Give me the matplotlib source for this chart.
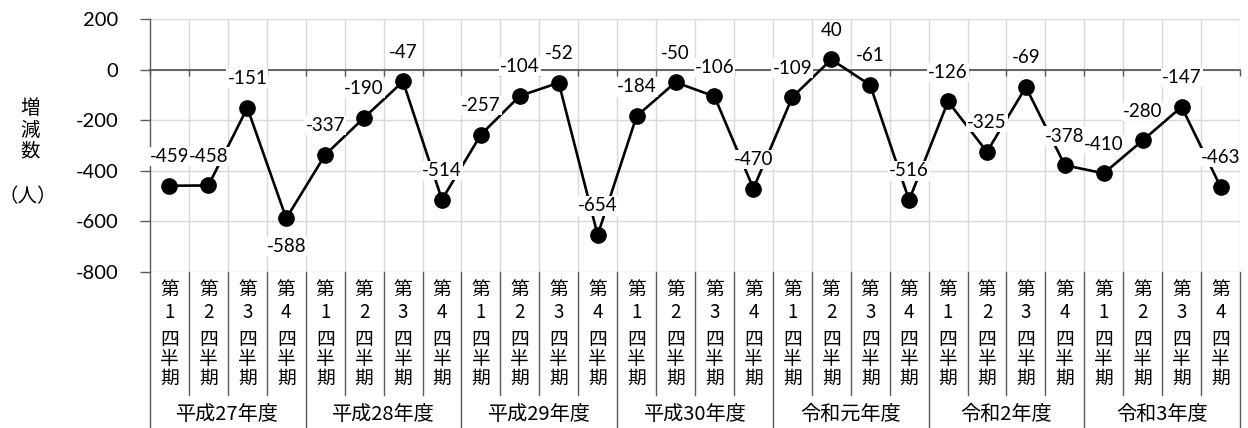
import matplotlib
matplotlib.use("Agg")
import matplotlib.pyplot as plt
from matplotlib.lines import Line2D
import matplotlib.transforms as mtransforms

plt.rcParams['font.family'] = ['Lato', 'Noto Sans CJK JP', 'DejaVu Sans']

# Quarterly net change (persons)
years = ["平成27年度", "平成28年度", "平成29年度", "平成30年度", "令和元年度", "令和2年度", "令和3年度"]
quarters = ["1", "2", "3", "4"]
values = [
    -459, -458, -151, -588,
    -337, -190, -47, -514,
    -257, -104, -52, -654,
    -184, -50, -106, -470,
    -109, 40, -61, -516,
    -126, -325, -69, -378,
    -410, -280, -147, -463,
]
below_labels = [3]  # index of the point whose label sits under the marker
y_ticks = [200, 0, -200, -400, -600, -800]

W, H = 1248, 428
fig = plt.figure(figsize=(W / 100, H / 100), dpi=100)
left, right, top, bottom = 150, 1240, 19, 272
ax = fig.add_axes([left / W, 1 - bottom / H, (right - left) / W, (bottom - top) / H])

n = len(values)
xs = list(range(n))
ax.set_xlim(-0.5, n - 0.5)
ax.set_ylim(-800, 200)

grid_c = "#d9d9d9"
dark_c = "#595959"

# grid
for y in y_ticks:
    ax.axhline(y, color=grid_c, lw=1.0, zorder=0)
for k in range(1, n + 1):
    ax.axvline(k - 0.5, color=grid_c, lw=1.0, zorder=0)

# axes styling
for s in ["top", "right"]:
    ax.spines[s].set_visible(False)
ax.spines["left"].set_color(dark_c)
ax.spines["left"].set_linewidth(1.0)
ax.spines["bottom"].set_position(("data", 0))
ax.spines["bottom"].set_color(dark_c)
ax.spines["bottom"].set_linewidth(1.3)
ax.set_xticks([k - 0.5 for k in range(n + 1)])
ax.set_xticklabels([])
ax.tick_params(axis="x", direction="out", length=4, color=dark_c, width=1.0)
ax.set_yticks(y_ticks)
ax.set_yticklabels([str(v) for v in y_ticks], fontsize=14.5)
ax.tick_params(axis="y", direction="out", length=7, color=dark_c, width=1.0, pad=16)

# series
ax.plot(xs, values, color="black", lw=1.9, marker="o", markersize=11,
        markerfacecolor="black", markeredgecolor="black", zorder=3)

for i, v in enumerate(values):
    dy = -20 if i in below_labels else 21
    ax.annotate(str(v), (i, v), xytext=(0, dy), textcoords="offset points",
                ha="center", va="center", fontsize=13.5, zorder=5,
                bbox=dict(boxstyle="square,pad=0.06", fc="white", ec="none"))

# category axis area
tr = mtransforms.blended_transform_factory(ax.transData, fig.transFigure)

def fy(px):
    return 1 - px / H

for k in range(n + 1):
    y_end = 428 if k % 4 == 0 else 395
    fig.add_artist(Line2D([k - 0.5, k - 0.5], [fy(272), fy(y_end)], transform=tr,
                          color=dark_c, lw=1.0, clip_on=False))

cjk = ["Noto Sans CJK JP"]
for i in range(n):
    q = quarters[i % 4]
    ax.text(i, fy(289), "第", transform=tr, ha="center", va="center",
            fontsize=13.5, family=cjk, clip_on=False)
    ax.text(i, fy(312), q, transform=tr, ha="center", va="center",
            fontsize=13.5, family=cjk, clip_on=False)
    ax.text(i, fy(359), "四\n半\n期", transform=tr, ha="center", va="center",
            fontsize=13.5, family=cjk, linespacing=0.88, clip_on=False)

for j, yr in enumerate(years):
    ax.text(4 * j + 1.5, fy(414), yr, transform=tr, ha="center", va="center",
            fontsize=14.5, family=cjk, clip_on=False)

# axis title
fig.text(30 / W, fy(130), "増\n減\n数", ha="center", va="center", fontsize=14,
         family=cjk, linespacing=1.0)
fig.text(28 / W, fy(197), "（人）", ha="center", va="center", fontsize=14,
         family=cjk)

fig.savefig("out.png", dpi=100)
